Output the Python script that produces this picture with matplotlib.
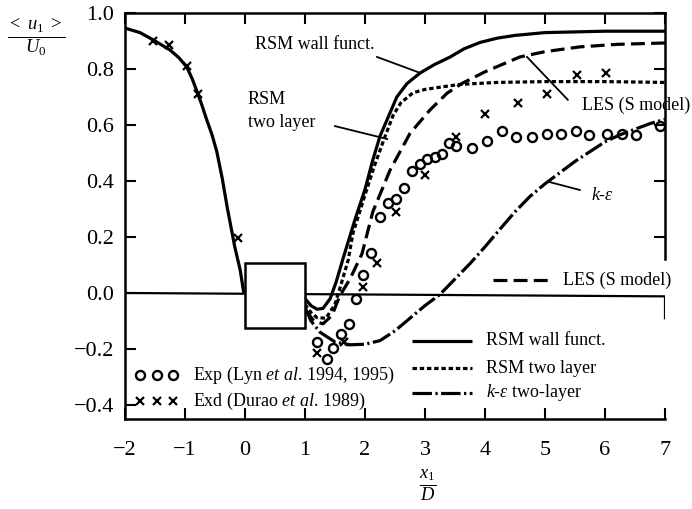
import matplotlib
matplotlib.use("Agg")
import matplotlib.pyplot as plt
from matplotlib.patches import Rectangle

plt.rcParams["font.family"] = ["Liberation Serif", "DejaVu Serif"]
plt.rcParams["mathtext.fontset"] = "custom"
plt.rcParams["mathtext.rm"] = "Liberation Serif"
plt.rcParams["mathtext.it"] = "Liberation Serif:italic"
plt.rcParams["mathtext.bf"] = "Liberation Serif:bold"
plt.rcParams["lines.scale_dashes"] = False

# ---- data: mean streamwise velocity along the centreline ----
# upstream of the cylinder (all models coincide)
up_x = [-2.0, -1.75, -1.53, -1.25, -1.1, -0.97, -0.88, -0.8, -0.72, -0.64, -0.55,
        -0.47, -0.38, -0.3, -0.17, -0.08, -0.02]
up_y = [0.946, 0.93, 0.904, 0.868, 0.84, 0.807, 0.765, 0.72, 0.672, 0.62, 0.565,
        0.505, 0.41, 0.31, 0.164, 0.082, 0.0]

# RSM with wall functions
rsm_wf_x = [1.0, 1.1, 1.2, 1.3, 1.42, 1.52, 1.63, 1.83, 2.0, 2.13, 2.25, 2.53,
            2.7, 2.92, 3.15, 3.42, 3.65, 3.92, 4.2, 4.5, 5.0, 6.0, 7.0]
rsm_wf_y = [-0.02, -0.045, -0.058, -0.055, -0.02, 0.04, 0.12, 0.26, 0.37, 0.475,
            0.56, 0.70, 0.748, 0.786, 0.815, 0.843, 0.872, 0.895, 0.91, 0.92,
            0.93, 0.935, 0.935]

# RSM two-layer
rsm_tl_x = [1.0, 1.1, 1.2, 1.35, 1.5, 1.6, 1.72, 1.8, 1.97, 2.15, 2.33, 2.47,
            2.6, 2.8, 3.0, 3.25, 3.58, 4.2, 5.0, 6.0, 7.0]
rsm_tl_y = [-0.04, -0.07, -0.088, -0.09, -0.04, 0.03, 0.118, 0.214, 0.33, 0.45,
            0.557, 0.635, 0.68, 0.715, 0.727, 0.735, 0.745, 0.752, 0.755, 0.755,
            0.752]

# LES (Smagorinsky model)
les_x = [1.0, 1.15, 1.3, 1.45, 1.58, 1.75, 1.95, 2.13, 2.42, 2.75, 3.08, 3.37,
         3.63, 4.0, 4.58, 5.0, 5.58, 6.2, 7.0]
les_y = [-0.06, -0.1, -0.11, -0.08, -0.01, 0.05, 0.14, 0.29, 0.44, 0.57, 0.653,
         0.714, 0.75, 0.79, 0.843, 0.862, 0.879, 0.888, 0.893]

# k-epsilon two-layer
ke_x = [1.0, 1.1, 1.25, 1.5, 1.75, 2.0, 2.25, 2.5, 2.75, 3.0, 3.25, 3.5, 3.75,
        4.0, 4.25, 4.5, 4.75, 5.0, 5.25, 5.5, 5.75, 6.0, 6.25, 6.5, 6.75, 7.0]
ke_y = [-0.05, -0.1, -0.14, -0.175, -0.185, -0.183, -0.17, -0.135, -0.09, -0.045,
        -0.005, 0.05, 0.105, 0.165, 0.228, 0.29, 0.345, 0.39, 0.43, 0.47, 0.505,
        0.54, 0.565, 0.585, 0.605, 0.62]

# Experiments: Lyn et al. (circles)
exp_x = [1.2, 1.37, 1.47, 1.6, 1.73, 1.85, 1.97, 2.1, 2.25, 2.38, 2.52, 2.65,
         2.78, 2.92, 3.03, 3.17, 3.28, 3.4, 3.52, 3.78, 4.03, 4.28, 4.52, 4.78,
         5.03, 5.27, 5.52, 5.73, 6.03, 6.28, 6.52, 6.92]
exp_y = [-0.175, -0.235, -0.196, -0.146, -0.11, -0.02, 0.064, 0.143, 0.27, 0.32,
         0.335, 0.375, 0.436, 0.46, 0.478, 0.486, 0.496, 0.535, 0.525, 0.518,
         0.543, 0.578, 0.557, 0.557, 0.568, 0.568, 0.578, 0.564, 0.568, 0.568,
         0.564, 0.596]

# Experiments: Durao et al. (crosses)
exd_x = [-1.53, -1.27, -0.97, -0.78, -0.12, 1.2, 1.65, 1.97, 2.2, 2.52, 3.0,
         3.52, 4.0, 4.55, 5.03, 5.53, 6.02]
exd_y = [0.90, 0.886, 0.81, 0.71, 0.196, -0.215, -0.175, 0.02, 0.107, 0.29, 0.42,
         0.557, 0.64, 0.68, 0.71, 0.78, 0.786]

# centreline reference line and cylinder cross-section
axis_x = [-2.0, 7.0, 7.0]
axis_y = [0.0, -0.012, -0.09]
cyl_x0, cyl_x1 = 0.0, 1.0
cyl_y0, cyl_y1 = -0.125, 0.107

xticks = [-2, -1, 0, 1, 2, 3, 4, 5, 6, 7]
xtick_labels = ["\u22122", "\u22121", "0", "1", "2", "3", "4", "5", "6", "7"]
yticks = [-0.4, -0.2, 0.0, 0.2, 0.4, 0.6, 0.8, 1.0]
ytick_labels = ["\u22120.4", "\u22120.2", "0.0", "0.2", "0.4", "0.6", "0.8", "1.0"]

# ---- styles ----
LW = 2.3
solid = dict(color="black", lw=LW, solid_capstyle="butt")
dotted = dict(color="black", lw=LW, dashes=(3.2, 2.0), dash_capstyle="butt")
dashed = dict(color="black", lw=LW, dashes=(10, 4.5), dash_capstyle="butt")
dashdot = dict(color="black", lw=LW, dashes=(14, 2.5, 1.6, 2.5), dash_capstyle="butt")
circ = dict(ls="none", marker="o", ms=6.5, mfc="none", mec="black", mew=1.7)
cross = dict(ls="none", marker="x", ms=6.0, mec="black", mew=1.6)

fig = plt.figure(figsize=(6.92, 5.09), dpi=100)
ax = fig.add_axes([125 / 692, 1 - 419 / 509, 540 / 692, 406 / 509])
ax.set_xlim(-2, 7)
ax.set_ylim(-0.45, 1.0)

ax.plot(axis_x, axis_y, color="black", lw=1.6, zorder=2)
ax.add_patch(Rectangle((cyl_x0, cyl_y0), cyl_x1 - cyl_x0, cyl_y1 - cyl_y0,
                       fc="white", ec="black", lw=1.8, zorder=5))

ax.plot(up_x, up_y, zorder=3, **solid)
ax.plot(rsm_wf_x, rsm_wf_y, zorder=3, **solid)
ax.plot(rsm_tl_x, rsm_tl_y, zorder=3, **dotted)
ax.plot(les_x, les_y, zorder=3, **dashed)
ax.plot(ke_x, ke_y, zorder=3, **dashdot)
ax.plot(exp_x, exp_y, zorder=4, **circ)
ax.plot(exd_x, exd_y, zorder=4, **cross)

# ---- curve labels with leader lines ----
FS = 13
ax.text(0.17, 0.886, "RSM wall funct.", fontsize=FS, va="center", ha="left")
ax.plot([2.2, 2.92], [0.843, 0.786], color="black", lw=1.3)
ax.text(0.05, 0.69, "RSM", fontsize=FS, va="center", ha="left")
ax.text(0.05, 0.61, "two layer", fontsize=FS, va="center", ha="left")
ax.plot([1.5, 2.37], [0.596, 0.55], color="black", lw=1.3)
ax.text(5.62, 0.67, "LES (S model)", fontsize=FS, va="center", ha="left")
ax.plot([4.7, 5.38], [0.843, 0.69], color="black", lw=1.3)
ax.text(5.77, 0.35, r"$k$-$\varepsilon$", fontsize=FS, va="center", ha="left")
ax.plot([5.08, 5.58], [0.396, 0.368], color="black", lw=1.3)

# ---- legend entries ----
def line_key(y, style, label, x0=2.78, x1=3.78, xt=4.02):
    ax.plot([x0, x1], [y, y], **style)
    ax.text(xt, y, label, fontsize=FS, va="center", ha="left")

line_key(0.046, dashed, "LES (S model)", x0=4.13, x1=5.08, xt=5.3)
line_key(-0.17, solid, "RSM wall funct.")
line_key(-0.268, dotted, "RSM two layer")
line_key(-0.357, dashdot, r"$k$-$\varepsilon$ two-layer")

key_x = [-1.75, -1.47, -1.2]
ax.plot(key_x, [-0.293] * 3, **circ)
ax.text(-0.87, -0.293, r"Exp (Lyn $et\ al$. 1994, 1995)", fontsize=FS,
        va="center", ha="left")
ax.plot(key_x, [-0.386] * 3, **cross)
ax.text(-0.87, -0.386, r"Exd (Durao $et\ al$. 1989)", fontsize=FS,
        va="center", ha="left")

# ---- axes frame ----
for s in ax.spines.values():
    s.set_linewidth(1.8)
ax.spines["right"].set_bounds(0.12, 1.0)

ax.set_xticks(xticks)
ax.set_xticklabels(xtick_labels)
ax.set_yticks(yticks)
ax.set_yticklabels(ytick_labels)
ax.tick_params(direction="in", length=8, width=1.5, top=True, right=True,
               labelsize=16)
ax.tick_params(axis="x", pad=16)
ax.tick_params(axis="y", pad=8)
for t, v in zip(ax.yaxis.get_major_ticks(), yticks):
    if v <= 0.0:
        t.tick2line.set_visible(False)

fig.text(0.053, 0.925, r"$\frac{<\ u_1\ >}{U_0}$", fontsize=19, ha="center", va="center")
fig.text(428 / 692, 0.045, r"$\frac{x_1}{D}$", fontsize=19, ha="center", va="center")

fig.savefig("out.png", dpi=100)
